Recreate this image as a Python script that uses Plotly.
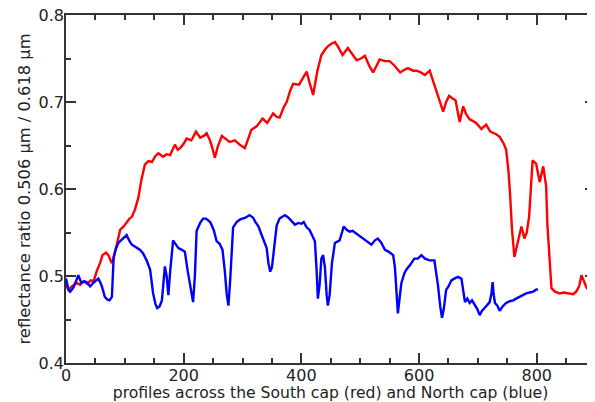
import plotly.graph_objects as go

# South cap profile (red)
red_x = [0, 4, 10, 18, 24, 30, 36, 42, 47, 52, 58, 62, 68, 72, 77, 80, 86, 92, 98, 103,
         108, 112, 117, 123, 128, 134, 140, 146, 152, 157, 165, 171, 177, 185, 190, 194,
         200, 205, 213, 221, 228, 234, 239, 244, 248, 253, 258, 265, 272, 278, 287, 295,
         304, 310, 315, 324, 334, 342, 352, 358, 363, 370, 375, 381, 386, 396, 403, 409,
         414, 420, 427, 434, 440, 445, 451, 457, 462, 470, 479, 486, 494, 501, 508, 515,
         522, 528, 533, 542, 550, 558, 568, 575, 581, 590, 596, 603, 610, 618, 624, 629,
         635, 641, 646, 651, 657, 662, 669, 675, 680, 686, 692, 697, 706, 714, 721, 731,
         737, 744, 748, 752, 755, 758, 762, 768, 774, 779, 783, 787, 790, 793, 799, 805,
         811, 816, 818, 821, 825, 831, 839, 846, 856, 862, 867, 872, 876, 880, 885, 891, 898]
red_y = [0.490, 0.484, 0.488, 0.492, 0.490, 0.494, 0.491, 0.495, 0.494, 0.505, 0.515, 0.524,
         0.527, 0.524, 0.516, 0.518, 0.535, 0.553, 0.557, 0.562, 0.566, 0.568, 0.576, 0.590,
         0.610, 0.628, 0.632, 0.631, 0.638, 0.641, 0.637, 0.640, 0.639, 0.651, 0.645, 0.647,
         0.652, 0.658, 0.656, 0.666, 0.659, 0.661, 0.664, 0.657, 0.649, 0.636, 0.649, 0.661,
         0.657, 0.654, 0.656, 0.651, 0.647, 0.660, 0.668, 0.672, 0.681, 0.676, 0.687, 0.683,
         0.682, 0.694, 0.700, 0.713, 0.721, 0.720, 0.728, 0.735, 0.722, 0.708, 0.735, 0.754,
         0.760, 0.764, 0.767, 0.769, 0.764, 0.754, 0.762, 0.755, 0.748, 0.750, 0.753, 0.742,
         0.734, 0.742, 0.749, 0.747, 0.747, 0.742, 0.734, 0.737, 0.739, 0.736, 0.736, 0.734,
         0.731, 0.736, 0.724, 0.712, 0.700, 0.689, 0.700, 0.707, 0.704, 0.702, 0.677, 0.695,
         0.686, 0.680, 0.678, 0.676, 0.669, 0.674, 0.666, 0.663, 0.660, 0.652, 0.645, 0.620,
         0.590, 0.553, 0.522, 0.541, 0.557, 0.543, 0.550, 0.568, 0.600, 0.633, 0.629, 0.608,
         0.626, 0.603, 0.560, 0.526, 0.486, 0.482, 0.480, 0.481, 0.480, 0.479, 0.482, 0.488,
         0.501, 0.494, 0.486, 0.484, 0.485]

# North cap profile (blue)
blue_x = [0, 4, 7, 12, 17, 21, 26, 31, 35, 41, 46, 50, 55, 58, 61, 66, 70, 74, 78, 81, 85,
          89, 96, 103, 108, 112, 119, 126, 131, 137, 143, 148, 152, 155, 159, 163, 166, 168,
          171, 174, 177, 182, 186, 191, 197, 202, 207, 211, 216, 219, 222, 228, 233, 238,
          245, 251, 256, 261, 266, 270, 273, 276, 279, 284, 290, 296, 305, 312, 318, 322,
          327, 332, 336, 341, 344, 347, 350, 354, 358, 363, 367, 372, 378, 384, 389, 395,
          400, 404, 409, 414, 419, 423, 426, 428, 431, 434, 437, 440, 443, 445, 448, 452,
          457, 461, 465, 469, 472, 477, 482, 487, 493, 499, 505, 512, 519, 525, 530, 536,
          542, 548, 556, 559, 562, 564, 567, 570, 575, 578, 584, 592, 598, 604, 610, 618,
          626, 629, 632, 636, 639, 642, 646, 650, 655, 660, 666, 672, 675, 678, 682, 686,
          690, 694, 699, 703, 707, 711, 716, 720, 723, 725, 727, 729, 733, 737, 742, 748,
          754, 760, 765, 771, 777, 782, 788, 794, 798, 802]
blue_y = [0.497, 0.485, 0.482, 0.486, 0.494, 0.501, 0.492, 0.494, 0.493, 0.488, 0.492, 0.494,
          0.497, 0.493, 0.488, 0.476, 0.473, 0.472, 0.476, 0.522, 0.532, 0.538, 0.543, 0.547,
          0.540, 0.536, 0.533, 0.530, 0.526, 0.518, 0.507, 0.480, 0.468, 0.463, 0.465, 0.472,
          0.495, 0.511, 0.500, 0.478, 0.505, 0.541, 0.537, 0.532, 0.530, 0.528, 0.505, 0.488,
          0.470, 0.500, 0.552, 0.561, 0.566, 0.566, 0.562, 0.553, 0.540, 0.537, 0.530, 0.505,
          0.480, 0.466, 0.495, 0.556, 0.562, 0.565, 0.567, 0.570, 0.567, 0.562, 0.557, 0.548,
          0.540, 0.532, 0.515, 0.505, 0.510, 0.535, 0.558, 0.566, 0.568, 0.570, 0.567, 0.563,
          0.559, 0.561, 0.560, 0.562, 0.556, 0.553, 0.545, 0.540, 0.505, 0.474, 0.490, 0.520,
          0.524, 0.510, 0.478, 0.466, 0.478, 0.515, 0.538, 0.540, 0.541, 0.550, 0.557, 0.553,
          0.551, 0.552, 0.549, 0.547, 0.543, 0.540, 0.536, 0.541, 0.543, 0.538, 0.530, 0.528,
          0.524, 0.510, 0.475, 0.457, 0.475, 0.492, 0.503, 0.507, 0.512, 0.520, 0.520, 0.524,
          0.520, 0.518, 0.518, 0.505, 0.490, 0.465, 0.452, 0.462, 0.484, 0.488, 0.495, 0.497,
          0.499, 0.497, 0.485, 0.470, 0.474, 0.469, 0.472, 0.467, 0.462, 0.455, 0.460, 0.463,
          0.467, 0.470, 0.480, 0.493, 0.478, 0.469, 0.466, 0.460, 0.465, 0.469, 0.471, 0.472,
          0.474, 0.476, 0.478, 0.480, 0.481, 0.482, 0.484, 0.485]

x_tick_vals = [0, 200, 400, 600, 800]
y_tick_vals = [0.4, 0.5, 0.6, 0.7, 0.8]

x_title = "profiles across the South cap (red) and North cap (blue)"
y_title = "reflectance ratio 0.506 \u03bcm / 0.618 \u03bcm"

FONT = "DejaVu Sans"
AXC = "#333333"
TXC = "#222222"

fig = go.Figure()
fig.add_trace(go.Scatter(x=red_x, y=red_y, mode="lines",
                         line=dict(color="#ff0000", width=2.4), showlegend=False))
fig.add_trace(go.Scatter(x=blue_x, y=blue_y, mode="lines",
                         line=dict(color="#0000ff", width=2.4), showlegend=False))

axis_common = dict(
    showline=True, linecolor=AXC, linewidth=1.5, mirror="allticks",
    ticks="inside", ticklen=10, tickwidth=1.5, tickcolor=AXC,
    showgrid=False, zeroline=False, automargin=False,
    ticklabeloverflow="allow", ticklabelstandoff=-3,
    tickfont=dict(family=FONT, size=16, color=TXC),
)

fig.update_xaxes(range=[0, 899], tickvals=x_tick_vals,
                 minor=dict(dtick=50, tick0=0, ticks="inside", ticklen=5,
                            tickwidth=1.5, tickcolor=AXC, showgrid=False),
                 title=dict(text=x_title, standoff=0,
                            font=dict(family=FONT, size=15.6, color=TXC)),
                 **axis_common)
fig.update_yaxes(range=[0.4, 0.8], tickvals=y_tick_vals, tickformat=".1f",
                 minor=dict(dtick=0.05, tick0=0.4, ticks="inside", ticklen=5,
                            tickwidth=1.5, tickcolor=AXC, showgrid=False),
                 title=dict(text=y_title, standoff=4,
                            font=dict(family=FONT, size=16.3, color=TXC)),
                 **axis_common)

# The page body adds an 8 px offset, so the figure is sized to fit the 595x402 window.
fig.update_layout(
    width=587, height=394,
    margin=dict(l=58, r=0, t=7, b=39),
    plot_bgcolor="white", paper_bgcolor="white",
)

fig.write_html("out.html")
